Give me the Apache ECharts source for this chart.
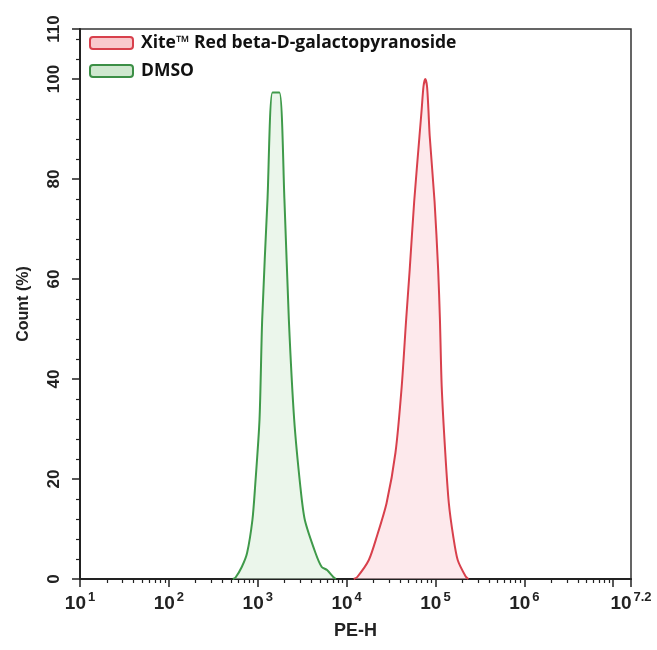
<!DOCTYPE html>
<html>
<head>
<meta charset="utf-8">
<script src="https://cdn.jsdelivr.net/npm/echarts@6/dist/echarts.min.js"></script>
<style>html,body{margin:0;padding:0;background:#fff}#c{width:657px;height:650px}</style>
</head>
<body>
<div id="c"></div>
<script>
// PE-H expressed as log10 exponent; Count in %
const seriesNames = ['Xite\u2122 Red beta-D-galactopyranoside', 'DMSO'];
const redLogPEH = [4.08, 4.12, 4.25, 4.34, 4.45, 4.55, 4.62, 4.67, 4.71, 4.76, 4.82, 4.845, 4.865, 4.885, 4.905, 4.92, 4.935, 4.99, 5.03, 5.05, 5.07, 5.11, 5.15, 5.20, 5.25, 5.34, 5.37];
const redCount  = [0,    0.4,  3.8,  8.5,  15.2, 25.3, 38.5, 51.9, 61.9, 75.4, 88.6, 94.0,  98.5,  100,   98.5,  94.0, 88.6,  75.4, 61.9, 51.9, 38.5, 25.3, 15.2, 8.5,  3.8,  0.5,  0];
const greenLogPEH = [2.72, 2.75, 2.82, 2.88, 2.94, 2.97, 3.02, 3.05, 3.11, 3.166, 3.244, 3.30, 3.35, 3.41, 3.48, 3.53, 3.65, 3.72, 3.78, 3.85, 3.88];
const greenCount  = [0,    0.3,  2.4,  5.2,  11.8, 18.4, 31.9, 51.9, 76.0, 97.3,  97.3,  76.0, 51.9, 31.9, 18.4, 11.8, 5.2,  2.4,  1.8,  0.4,  0];
const xLabelExps = [1, 2, 3, 4, 5, 6, 7.2];
const xMajorTicks = [1, 2, 3, 4, 5, 6, 7, 7.2];
const yLabels = [0, 20, 40, 60, 80, 100, 110];
const yMinorTicks = [4, 8, 12, 16, 24, 28, 32, 36, 44, 48, 52, 56, 64, 68, 72, 76, 84, 88, 92, 96, 104, 108];

const xMinorTicks = [];
for (let d = 1; d <= 7; d++) for (let k = 2; k <= 9; k++) xMinorTicks.push(d + Math.log10(k));
const xMinorFiltered = xMinorTicks.filter(v => v < 7.2);

const toPairs = (xs, ys) => xs.map((x, i) => [x, ys[i]]);
const axisColor = '#222';
const narrow = "'Liberation Sans Narrow','Liberation Sans',Arial,sans-serif";

const chart = echarts.init(document.getElementById('c'), null, {renderer: 'canvas'});
chart.setOption({
  animation: false,
  backgroundColor: '#fff',
  grid: {left: 80, right: 26, top: 29, bottom: 71, show: true, borderColor: '#333', borderWidth: 1.5, containLabel: false},
  legend: {
    left: 89, top: 34, padding: 0, orient: 'vertical', itemWidth: 43, itemHeight: 12, itemGap: 10, icon: 'roundRect',
    textStyle: {fontFamily: "'Open Sans', sans-serif", fontWeight: 'bold', fontSize: 17.5, color: '#111', padding: [0, 0, 0, 3]},
    data: [
      {name: seriesNames[0], itemStyle: {color: '#f9c9cd', borderColor: '#d8404c', borderWidth: 2}},
      {name: seriesNames[1], itemStyle: {color: '#cfe8cf', borderColor: '#3c8f46', borderWidth: 2}}
    ]
  },
  xAxis: [{
    type: 'value', min: 1, max: 7.2, position: 'bottom',
    name: 'PE-H', nameLocation: 'middle', nameGap: 43,
    nameTextStyle: {fontFamily: narrow, fontWeight: 'bold', fontSize: 18, color: '#222'},
    axisLine: {show: true, lineStyle: {color: axisColor, width: 2}},
    axisTick: {show: true, customValues: xMajorTicks, length: 8, inside: false, lineStyle: {color: axisColor, width: 1.5}},
    axisLabel: {
      show: true, customValues: xLabelExps, margin: 12,
      formatter: v => '{b|10}{s|' + (Math.abs(v - 7.2) < 1e-6 ? '7.2' : String(Math.round(v))) + '}',
      rich: {
        b: {fontFamily: narrow, fontWeight: 'bold', fontSize: 19, color: '#222', lineHeight: 22, verticalAlign: 'bottom'},
        s: {fontFamily: narrow, fontWeight: 'bold', fontSize: 13, color: '#222', lineHeight: 14, verticalAlign: 'top', padding: [0, 0, 0, 2]}
      }
    },
    splitLine: {show: false}
  }, {
    type: 'value', min: 1, max: 7.2, position: 'bottom', offset: 0,
    axisLine: {show: false},
    axisTick: {show: true, customValues: xMinorFiltered, length: 4, lineStyle: {color: axisColor, width: 1.2}},
    axisLabel: {show: false}, splitLine: {show: false}
  }],
  yAxis: [{
    type: 'value', min: 0, max: 110, position: 'left',
    name: 'Count (%)', nameLocation: 'middle', nameGap: 48,
    nameTextStyle: {fontFamily: "'Liberation Sans',Arial,sans-serif", fontWeight: 'bold', fontSize: 16, color: '#222'},
    axisLine: {show: true, lineStyle: {color: axisColor, width: 2}},
    axisTick: {show: true, customValues: yLabels, length: 8, lineStyle: {color: axisColor, width: 1.5}},
    axisLabel: {show: true, customValues: yLabels, rotate: 90, margin: 17,
      fontFamily: "'Liberation Sans',Arial,sans-serif", fontWeight: 'bold', fontSize: 17, color: '#222'},
    splitLine: {show: false}
  }, {
    type: 'value', min: 0, max: 110, position: 'left', offset: 0,
    axisLine: {show: false},
    axisTick: {show: true, customValues: yMinorTicks, length: 4, lineStyle: {color: axisColor, width: 1.2}},
    axisLabel: {show: false}, splitLine: {show: false}
  }],
  series: [{
    name: seriesNames[0], type: 'line', xAxisIndex: 0, yAxisIndex: 0,
    data: toPairs(redLogPEH, redCount), smooth: 0.25, showSymbol: false, symbol: 'none',
    lineStyle: {color: '#d8404c', width: 2},
    itemStyle: {color: '#d8404c'},
    areaStyle: {color: 'rgba(252,214,218,0.75)', origin: 'start'}
  }, {
    name: seriesNames[1], type: 'line', xAxisIndex: 0, yAxisIndex: 0,
    data: toPairs(greenLogPEH, greenCount), smooth: 0.25, showSymbol: false, symbol: 'none',
    lineStyle: {color: '#3f9a4a', width: 2},
    itemStyle: {color: '#3f9a4a'},
    areaStyle: {color: 'rgba(214,236,214,0.7)', origin: 'start'}
  }]
});
</script>
</body>
</html>
